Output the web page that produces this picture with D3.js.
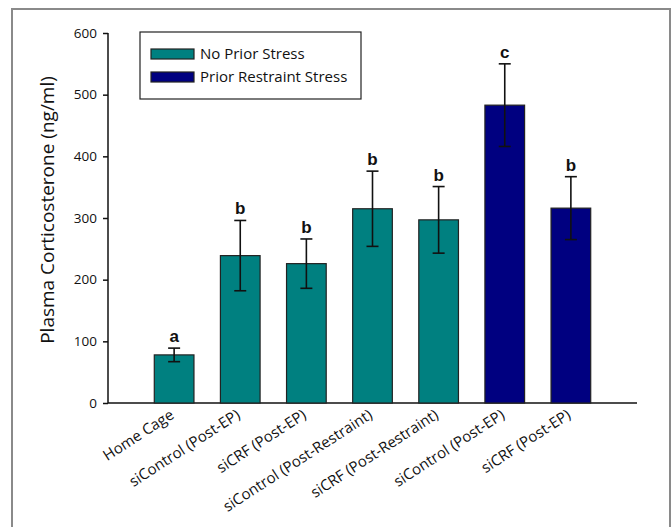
<!DOCTYPE html>
<html>
<head>
<meta charset="utf-8">
<script src="https://cdn.jsdelivr.net/npm/d3@7"></script>
<style>
  html, body { margin: 0; padding: 0; background: #fff; }
  svg { display: block; }
  text { font-family: "Open Sans", "Noto Sans", sans-serif; fill: #111; }
</style>
</head>
<body>
<svg id="chart" width="672" height="527"></svg>
<script>
// Plasma corticosterone by group
const categories = [
  "Home Cage",
  "siControl (Post-EP)",
  "siCRF (Post-EP)",
  "siControl (Post-Restraint)",
  "siCRF (Post-Restraint)",
  "siControl (Post-EP)",
  "siCRF (Post-EP)"
];
const groups = ["No Prior Stress", "No Prior Stress", "No Prior Stress", "No Prior Stress",
                "No Prior Stress", "Prior Restraint Stress", "Prior Restraint Stress"];
const means = [78, 239, 226, 315, 297, 483, 316];
const errors = [11, 57, 40, 61, 54, 67, 51];
const letters = ["a", "b", "b", "b", "b", "c", "b"];
const legendItems = ["No Prior Stress", "Prior Restraint Stress"];
const yTicks = [0, 100, 200, 300, 400, 500, 600];

const svg = d3.select("#chart");

// outer frame
svg.append("rect")
  .attr("x", 12).attr("y", 9)
  .attr("width", 658).attr("height", 530)
  .attr("fill", "none").attr("stroke", "#8a8a8a").attr("stroke-width", 2);

const x = d3.scaleBand()
  .domain(d3.range(categories.length))
  .range([108, 637])
  .paddingInner(0.4)
  .paddingOuter(0.7);

const y = d3.scaleLinear().domain([0, 600]).range([403, 33]);

const color = d3.scaleOrdinal().domain(legendItems).range(["#008080", "#000080"]);

// y axis
const yAxis = svg.append("g")
  .attr("transform", "translate(108,0)")
  .call(d3.axisLeft(y).tickValues(yTicks).tickSize(5).tickPadding(6).tickFormat(d3.format("d")));
yAxis.select(".domain").attr("stroke", "#111").attr("stroke-width", 1.5).attr("d", `M0,${y(600)}V${y(0)}`);
yAxis.selectAll(".tick line").attr("stroke", "#111").attr("stroke-width", 1.5);
yAxis.selectAll(".tick text").style("font-size", "13.5px").attr("fill", "#222");

// x axis baseline
svg.append("line")
  .attr("x1", 108).attr("x2", 637)
  .attr("y1", y(0)).attr("y2", y(0))
  .attr("stroke", "#111").attr("stroke-width", 1.5);

// bars
svg.append("g").selectAll("rect")
  .data(means)
  .join("rect")
  .attr("x", (d, i) => x(i))
  .attr("y", d => y(d))
  .attr("width", x.bandwidth())
  .attr("height", d => y(0) - y(d))
  .attr("fill", (d, i) => color(groups[i]))
  .attr("stroke", "#222")
  .attr("stroke-width", 1.2);

// error bars (upper and lower)
const eb = svg.append("g").attr("stroke", "#111").attr("stroke-width", 1.6);
means.forEach((m, i) => {
  const cx = x(i) + x.bandwidth() / 2;
  eb.append("line").attr("x1", cx).attr("x2", cx).attr("y1", y(m + errors[i])).attr("y2", y(m - errors[i]));
  eb.append("line").attr("x1", cx - 6).attr("x2", cx + 6).attr("y1", y(m + errors[i])).attr("y2", y(m + errors[i]));
  eb.append("line").attr("x1", cx - 6).attr("x2", cx + 6).attr("y1", y(m - errors[i])).attr("y2", y(m - errors[i]));
});

// significance letters
svg.append("g").selectAll("text")
  .data(letters)
  .join("text")
  .attr("x", (d, i) => x(i) + x.bandwidth() / 2)
  .attr("y", (d, i) => y(means[i] + errors[i]) - 6)
  .attr("text-anchor", "middle")
  .style("font-size", "17px")
  .style("font-weight", "bold")
  .style("font-family", "Arial, 'Liberation Sans', sans-serif")
  .text(d => d);

// category labels, rotated
svg.append("g").selectAll("text")
  .data(categories)
  .join("text")
  .attr("transform", (d, i) => `translate(${x(i) + x.bandwidth() / 2 - 2},${y(0) + 10}) rotate(-33)`)
  .attr("text-anchor", "end")
  .attr("dy", "0.35em")
  .style("font-size", "15px")
  .attr("fill", "#222")
  .text(d => d);

// y axis title
svg.append("text")
  .attr("transform", `translate(54,${(y(0) + y(600)) / 2 - 8}) rotate(-90)`)
  .attr("text-anchor", "middle")
  .style("font-size", "19px")
  .text("Plasma Corticosterone (ng/ml)");

// legend
const lg = svg.append("g");
lg.append("rect")
  .attr("x", 140).attr("y", 32).attr("width", 221).attr("height", 67)
  .attr("fill", "#fff").attr("stroke", "#222").attr("stroke-width", 1.2);
legendItems.forEach((name, i) => {
  const yy = 49 + i * 23;
  lg.append("rect")
    .attr("x", 151).attr("y", yy).attr("width", 43).attr("height", 10)
    .attr("fill", color(name)).attr("stroke", "#222").attr("stroke-width", 1.2);
  lg.append("text")
    .attr("x", 200).attr("y", yy + 5).attr("dy", "0.35em")
    .style("font-size", "15px")
    .attr("fill", "#222")
    .text(name);
});
</script>
</body>
</html>
